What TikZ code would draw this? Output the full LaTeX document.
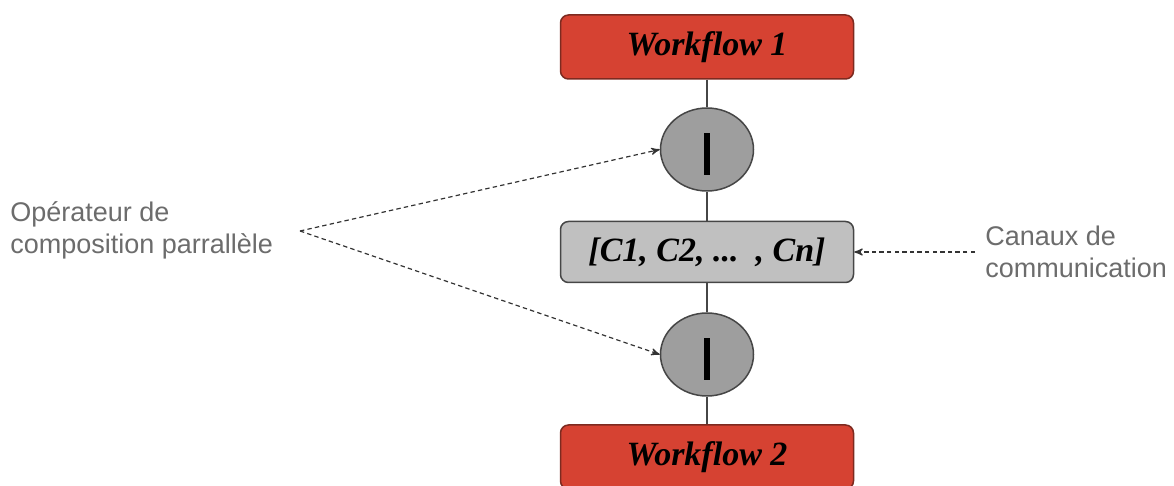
\documentclass[tikz,border=0pt]{standalone}
\usepackage{fontspec}
\setmainfont{Liberation Serif}
\newfontfamily\notefont{Liberation Sans}
\usetikzlibrary{shapes.geometric,arrows,positioning}
\definecolor{wfred}{RGB}{214,66,50}
\definecolor{wfborder}{RGB}{125,42,32}
\definecolor{chgray}{RGB}{192,192,192}
\definecolor{opgray}{RGB}{158,158,158}
\definecolor{edgegray}{RGB}{70,70,70}
\definecolor{notegray}{RGB}{108,108,108}

\begin{document}
\begin{tikzpicture}[x=0.5pt,y=-0.5pt,>=stealth',node distance=51.25pt,
    workflow/.style={draw=wfborder,fill=wfred,line width=0.75pt,rounded corners=4pt,
      minimum width=146.5pt,minimum height=32pt,
      font=\fontsize{17}{17}\selectfont\bfseries\itshape},
    channels/.style={draw=edgegray,fill=chgray,line width=0.75pt,rounded corners=4pt,
      minimum width=146.5pt,minimum height=30.5pt,
      font=\fontsize{17}{17}\selectfont\bfseries\itshape},
    oper/.style={ellipse,draw=edgegray,fill=opgray,line width=0.75pt,
      minimum width=46.5pt,minimum height=41.5pt,inner sep=0pt},
    note/.style={align=left,inner sep=0pt,text=notegray,
      font=\fontsize{13.5}{16}\notefont},
    pointer/.style={->,dashed,dash pattern=on 2.2pt off 1.6pt,draw=black!80,line width=0.6pt}]

  \useasboundingbox (0,0) rectangle (1174,486);

  \node[workflow] (w1) at (707,47) {Workflow 1};
  \node[oper] (op1) [below of=w1] {};
  \node[channels] (ch) [below of=op1] {[C1, C2, ...\ \ , Cn]};
  \node[oper] (op2) [below of=ch] {};
  \node[workflow] (w2) [below of=op2] {Workflow 2};

  % the bars inside the operators
  \foreach \c in {op1,op2}
    \draw[line width=3pt] ([yshift=8pt]\c.center) -- ([yshift=-13pt]\c.center);

  \path[draw=edgegray,line width=0.8pt]
  (w1) edge (op1)
  (op1) edge (ch)
  (ch) edge (op2)
  (op2) edge (w2)
  ;

  \node[note,anchor=west] (optxt) at (10,230) {Opérateur de\\composition parrallèle};
  \node[note,anchor=west] (chtxt) at (985,252) {Canaux de\\communication};

  \coordinate (opfrom) at (300,231);
  \coordinate (chfrom) at (975,252);

  \path
  (opfrom) edge[pointer] (op1.west)
  (opfrom) edge[pointer] (op2.west)
  (chfrom) edge[pointer] (ch.east)
  ;
\end{tikzpicture}
\end{document}
